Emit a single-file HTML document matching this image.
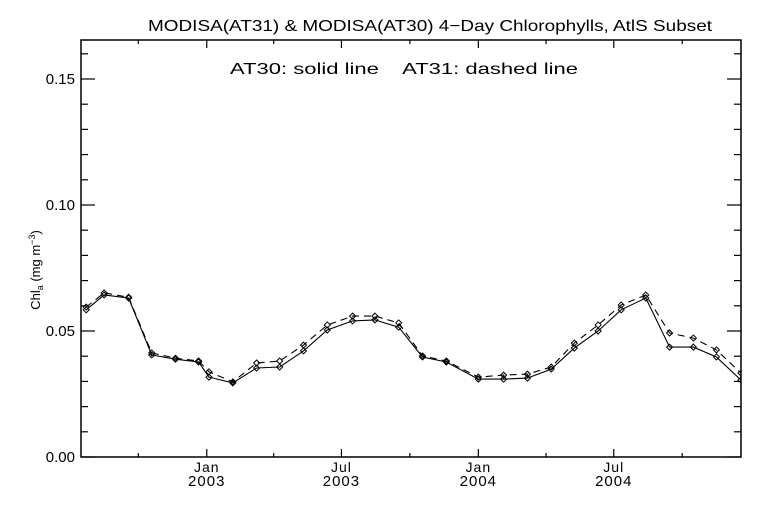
<!DOCTYPE html>
<html><head><meta charset="utf-8"><style>
html,body{margin:0;padding:0;background:#fff}
svg{display:block}
text{font-family:"Liberation Sans",sans-serif;fill:#000}
</style></head><body>
<svg id="chart" width="768" height="512" viewBox="0 0 768 512" xmlns="http://www.w3.org/2000/svg">
<rect width="768" height="512" fill="#fff"/>
<text x="148" y="31" font-size="16" textLength="564" lengthAdjust="spacingAndGlyphs">MODISA(AT31) &amp; MODISA(AT30) 4−Day Chlorophylls, AtlS Subset</text>
<text x="230" y="74" font-size="16" textLength="348" lengthAdjust="spacingAndGlyphs">AT30: solid line&#160;&#160;&#160; AT31: dashed line</text>
<text transform="translate(40,270) rotate(-90)" font-size="13" text-anchor="middle">Chl<tspan font-size="9" dy="3">a</tspan><tspan dy="-3"> (mg m</tspan><tspan font-size="9" dy="-5">−3</tspan><tspan dy="5">)</tspan></text>
<g id="axes"></g>
<g id="series"></g>
<rect x="81" y="40" width="660" height="417" fill="none" stroke="#000" stroke-width="1.5"/>
</svg>
<script>
// days relative to 2003-01-01
const days = [-162,-138,-105,-74,-42,-11,3,35,67,98,130,162,196,226,258,290,322,365,399,431,463,494,526,557,590,622,654,685,718];
const at30 = [.0584,.0643,.0631,.0405,.0388,.0377,.0317,.0294,.0353,.0357,.0421,.0504,.0540,.0544,.0515,.0397,.0377,.0309,.0309,.0313,.0349,.0432,.0500,.0584,.0631,.0436,.0436,.0397,.0305];
const at31 = [.0595,.0651,.0634,.0413,.0392,.0381,.0338,.0298,.0373,.0381,.0444,.0524,.0559,.0559,.0532,.0401,.0381,.0317,.0325,.0329,.0357,.0452,.0524,.0603,.0643,.0492,.0472,.0425,.0333];
const yTickLabels = ["0.00","0.05","0.10","0.15"];
const xMonthTicks = [-92,0,90,181,273,365,456,547,639];
const xLabelTicks = [0,181,365,547];
const xLabelMonths = ["Jan","Jul","Jan","Jul"];
const xLabelYears = ["2003","2003","2004","2004"];

const L=81,R=741,T=40,B=457;
const D0=-169,D1=718;
function X(d){return L+(d-D0)/(D1-D0)*(R-L);}
function Y(v){return B-v*2520;}
const NS="http://www.w3.org/2000/svg";
function mk(tag,attrs,parent){const e=document.createElementNS(NS,tag);for(const k in attrs)e.setAttribute(k,attrs[k]);parent.appendChild(e);return e;}
const axes=document.getElementById('axes');
for(let i=0;i<=16;i++){
  const v=i*0.01, y=Y(v), major=(i%5===0), len=major?14:7;
  const t1=mk('line',{x1:L,x2:L+len,y1:y,y2:y,stroke:'#000','stroke-width':1.2},axes);
  
  
  const t2=mk('line',{x1:R,x2:R-len,y1:y,y2:y,stroke:'#000','stroke-width':1.2},axes);
  
  
}
yTickLabels.forEach(s=>{
  const t=mk('text',{x:L-6,y:Y(parseFloat(s))+5,'font-size':15,'text-anchor':'end'},axes);
  t.textContent=s;
  
  
});
xMonthTicks.forEach(d=>{
  const major=xLabelTicks.includes(d), len=major?8:4, x=X(d);
  const a=mk('line',{x1:x,x2:x,y1:B,y2:B-len,stroke:'#000','stroke-width':1.2},axes);
  
  
  const b=mk('line',{x1:x,x2:x,y1:T,y2:T+len,stroke:'#000','stroke-width':1.2},axes);
  
  
});
xLabelTicks.forEach((d,i)=>{
  const a=mk('text',{x:X(d),y:472,'font-size':14,'text-anchor':'middle','letter-spacing':1},axes);
  a.textContent=xLabelMonths[i];
  
  
  const b=mk('text',{x:X(d),y:486,'font-size':15,'text-anchor':'middle','letter-spacing':1},axes);
  b.textContent=xLabelYears[i];
  
  
});
const ser=document.getElementById('series');
const cp=mk('clipPath',{id:'clip'},ser);
mk('rect',{x:L,y:T,width:R-L,height:B-T},cp);
function draw(vals,dash,name){
  const g=mk('g',{'clip-path':'url(#clip)'},ser);
  
  
  const pts=vals.map((v,i)=>X(days[i]).toFixed(1)+','+Y(v).toFixed(1)).join(' ');
  const pl=mk('polyline',{points:pts,fill:'none',stroke:'#000','stroke-width':1.1},g);
  if(dash)pl.setAttribute('stroke-dasharray','7,5');
  
  
  vals.forEach((v,i)=>{
    const x=X(days[i]),y=Y(v);
    const m=mk('polygon',{points:`${x},${y-3} ${x+3},${y} ${x},${y+3} ${x-3},${y}`,fill:'none',stroke:'#000','stroke-width':1},g);
    
    
  });
}
draw(at30,false,'at30-series');
draw(at31,true,'at31-series');
</script>
</body></html>
